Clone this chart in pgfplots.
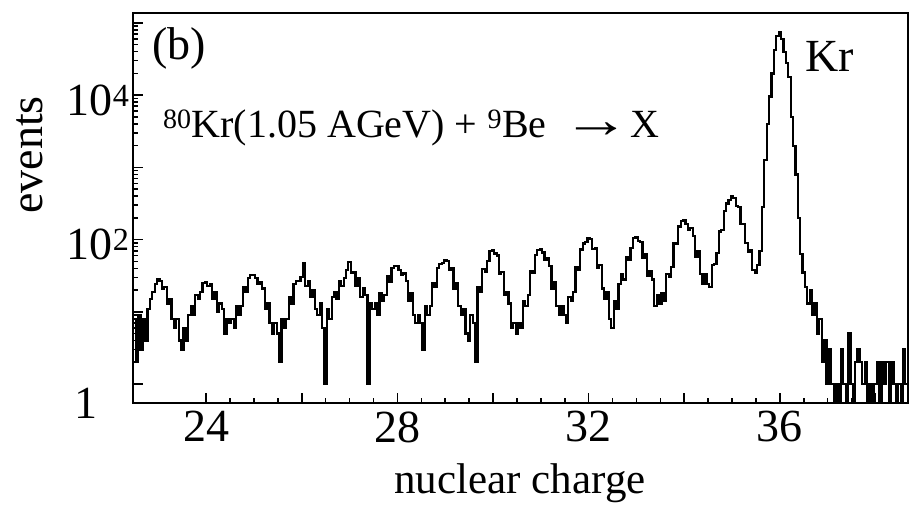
\documentclass[border=0pt]{standalone}
\usepackage{fontspec}
\setmainfont{Liberation Serif}
\usepackage{graphicx}
\usepackage{pgfplots}
\pgfplotsset{compat=1.18}
\begin{document}
\begin{tikzpicture}[x=1pt,y=1pt]
\path[use as bounding box] (0,0) rectangle (909,504);
\begin{axis}[
  at={(133pt,101pt)}, anchor=south west,
  width=775pt, height=390pt, scale only axis,
  xmin=22.47, xmax=38.68,
  ymode=log, ymin=0.546, ymax=1.37e5,
  axis line style={line width=2.2pt},
  xtick={24,26,...,38}, xticklabels={24,,28,,32,,36,},
  minor x tick num=3,
  ytick={1,10,100,1000,10000,100000},
  yticklabels={\raisebox{-29pt}[0pt][0pt]{1\hspace{32pt}},,10\textsuperscript{2},,10\textsuperscript{4},},
  tick align=inside, xtick pos=bottom, ytick pos=left,
  major tick length=10pt, minor tick length=5pt,
  every tick/.style={line width=1.6pt, black},
  tick label style={font=\fontsize{46}{50}\selectfont},
  xticklabel style={yshift=-5pt},
  yticklabel style={yshift=-5pt},
  /pgf/number format/assume math mode=true,
]
\addplot[const plot mark mid, line width=2.2pt, black] coordinates {
(22.45,5)(22.50,8)(22.55,2)(22.60,9)(22.65,3)(22.70,8)(22.75,4)(22.80,11)(22.85,15)(22.90,19)(22.95,24)
(23.00,28)(23.05,27)(23.10,21)(23.15,22)(23.20,13)(23.25,15)(23.30,8)(23.35,6)(23.40,8)(23.45,4)
(23.50,3)(23.55,6)(23.60,4)(23.65,9)(23.70,12)(23.75,9)(23.80,17)(23.85,15)(23.90,19)(23.95,25)
(24.00,26)(24.05,23)(24.10,24)(24.15,15)(24.20,19)(24.25,10)(24.30,13)(24.35,11)(24.40,5)(24.45,8)
(24.50,7)(24.55,8)(24.60,6)(24.65,12)(24.70,9)(24.75,12)(24.80,22)(24.85,19)(24.90,29)(24.95,32)
(25.00,32)(25.05,29)(25.10,24)(25.15,26)(25.20,21)(25.25,11)(25.30,13)(25.35,7)(25.40,5)(25.45,7)
(25.50,5)(25.55,2)(25.60,8)(25.65,6)(25.70,8)(25.75,16)(25.80,13)(25.85,24)(25.90,27)(25.95,27)
(26.00,30)(26.05,47)(26.10,23)(26.15,27)(26.20,16)(26.25,20)(26.30,11)(26.35,9)(26.40,13)(26.45,6)
(26.50,1)(26.55,11)(26.60,8)(26.65,16)(26.70,19)(26.75,15)(26.80,27)(26.85,23)(26.90,29)(26.95,38)
(27.00,49)(27.05,35)(27.10,36)(27.15,23)(27.20,29)(27.25,16)(27.30,21)(27.35,17)(27.40,1)(27.45,13)
(27.50,11)(27.55,13)(27.60,9)(27.65,18)(27.70,14)(27.75,17)(27.80,31)(27.85,26)(27.90,40)(27.95,43)
(28.00,43)(28.05,38)(28.10,32)(28.15,34)(28.20,27)(28.25,14)(28.30,18)(28.35,9)(28.40,7)(28.45,9)
(28.50,7)(28.55,3)(28.60,12)(28.65,9)(28.70,12)(28.75,25)(28.80,22)(28.85,40)(28.90,46)(28.95,47)
(29.00,52)(29.05,51)(29.10,38)(29.15,40)(29.20,21)(29.25,25)(29.30,12)(29.35,9)(29.40,11)(29.45,5)
(29.50,4)(29.55,9)(29.60,7)(29.65,2)(29.70,22)(29.75,19)(29.80,39)(29.85,36)(29.90,51)(29.95,70)
(30.00,72)(30.05,64)(30.10,60)(30.15,34)(30.20,36)(30.25,17)(30.30,19)(30.35,13)(30.40,6)(30.45,7)
(30.50,5)(30.55,7)(30.60,6)(30.65,14)(30.70,12)(30.75,17)(30.80,37)(30.85,35)(30.90,61)(30.95,71)
(31.00,74)(31.05,66)(31.10,53)(31.15,56)(31.20,43)(31.25,21)(31.30,26)(31.35,12)(31.40,9)(31.45,12)
(31.50,9)(31.55,7)(31.60,16)(31.65,14)(31.70,19)(31.75,41)(31.80,38)(31.85,73)(31.90,88)(31.95,92)
(32.00,105)(32.05,102)(32.10,74)(32.15,76)(32.20,40)(32.25,44)(32.30,21)(32.35,15)(32.40,19)(32.45,8)
(32.50,6)(32.55,14)(32.60,11)(32.65,24)(32.70,33)(32.75,28)(32.80,58)(32.85,53)(32.90,76)(32.95,104)
(33.00,107)(33.05,95)(33.10,93)(33.15,55)(33.20,62)(33.25,31)(33.30,37)(33.35,28)(33.40,12)(33.45,17)
(33.50,13)(33.55,18)(33.60,14)(33.65,33)(33.70,30)(33.75,42)(33.80,90)(33.85,86)(33.90,152)(33.95,179)
(34.00,186)(34.05,166)(34.10,136)(34.15,143)(34.20,112)(34.25,57)(34.30,69)(34.35,33)(34.40,24)(34.45,33)
(34.50,24)(34.55,22)(34.60,45)(34.65,46)(34.70,65)(34.75,129)(34.80,137)(34.85,251)(34.90,316)(34.95,356)
(35.00,398)(35.05,379)(35.10,292)(35.15,282)(35.20,164)(35.25,166)(35.30,90)(35.35,67)(35.40,71)(35.45,38)
(35.50,35)(35.55,45)(35.60,70)(35.65,282)(35.70,1259)(35.75,3981)(35.80,9550)(35.85,19950)(35.90,41690)(35.95,66070)
(36.00,74130)(36.05,60260)(36.10,39810)(36.15,28180)(36.20,17780)(36.25,5012)(36.30,1995)(36.35,794)(36.40,200)(36.45,63)
(36.50,35)(36.55,22)(36.60,13)(36.65,20)(36.70,9)(36.75,13)(36.80,5)(36.85,8)(36.90,2)(36.95,4)
(37.00,1)(37.05,3)(37.10,1)(37.15,0.1)(37.20,1)(37.25,0.1)(37.30,3)(37.35,1)(37.40,0.1)(37.45,5)
(37.50,1)(37.55,0.1)(37.60,2)(37.65,3)(37.70,2)(37.75,1)(37.80,2)(37.85,0.1)(37.90,1)(37.95,0.1)
(38.00,1)(38.05,2)(38.10,0.1)(38.15,2)(38.20,1)(38.25,2)(38.30,0.1)(38.35,2)(38.40,1)(38.45,0.1)
(38.50,1)(38.55,0.1)(38.60,3)(38.65,1)(38.70,0.1)
};
\end{axis}
\node[anchor=base west, inner sep=0pt, font=\fontsize{46}{50}\selectfont] at (152pt,444pt) {(b)};
\node[anchor=base west, inner sep=0pt, font=\fontsize{46}{50}\selectfont] at (805pt,432pt) {Kr};
\node[anchor=base west, inner sep=0pt, font=\fontsize{40}{44}\selectfont] at (163pt,366pt) {\textsuperscript{80}Kr(1.05 AGeV) + \textsuperscript{9}Be\hspace{16pt}\scalebox{1.7}[1.3]{→}X};
\node[anchor=base, inner sep=0pt, font=\fontsize{43}{48}\selectfont] at (520pt,11pt) {nuclear charge};
\node[anchor=base, inner sep=0pt, rotate=90, font=\fontsize{46}{50}\selectfont] at (42pt,349pt) {events};
\end{tikzpicture}
\end{document}
